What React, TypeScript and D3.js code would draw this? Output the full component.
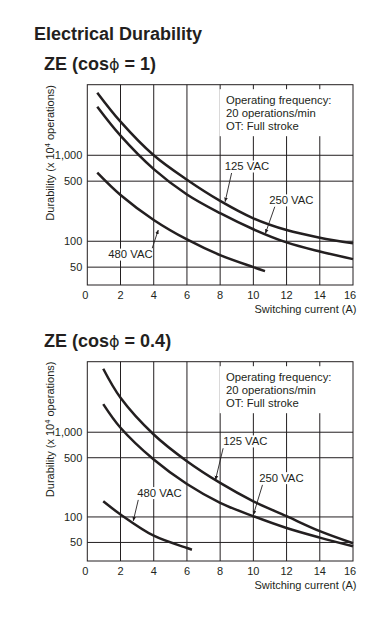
import * as d3 from 'd3';

// ---------------------------------------------------------------------------
// Data
// ---------------------------------------------------------------------------
const CURRENT_TICKS = [0, 2, 4, 6, 8, 10, 12, 14, 16];
const DURABILITY_TICKS = [50, 100, 500, 1000];
const NOTE_LINES = ['Operating frequency:', '20 operations/min', 'OT: Full stroke'];

// ZE (cos phi = 1)
const PF1_CURRENT = [0.6, 2, 4, 6, 8, 10, 12, 14, 16];
const PF1_125VAC = [5350, 2460, 1000, 520, 295, 185, 135, 110, 95];
const PF1_250VAC = [3670, 1690, 690, 350, 212, 138, 97, 76, 62];
const PF1_480VAC_CURRENT = [0.6, 2, 4, 6, 8, 10, 10.7];
const PF1_480VAC = [628, 345, 177, 105, 69, 50, 45];

// ZE (cos phi = 0.4)
const PF04_CURRENT = [0.96, 2, 4, 6, 8, 10, 12, 14, 16];
const PF04_125VAC = [5610, 2550, 940, 455, 252, 153, 102, 68, 49];
const PF04_250VAC = [2150, 1130, 476, 245, 147, 102, 74, 57, 45];
const PF04_480VAC_CURRENT = [0.96, 2, 4, 6, 6.3];
const PF04_480VAC = [153, 107, 60, 43, 41];

// label anchors + leader lines, in (current, durability) units
const PF1_LABELS = [
  { text: '125 VAC', at: [8.28, 674], from: [8.69, 622], to: [8.3, 289] },
  { text: '250 VAC', at: [10.95, 272], from: [11.29, 252], to: [10.73, 124] },
  { text: '480 VAC', at: [1.26, 63.7], from: [3.91, 83], to: [4.27, 135] },
];
const PF04_LABELS = [
  { text: '125 VAC', at: [8.18, 708], from: [8.18, 647], to: [7.72, 275] },
  { text: '250 VAC', at: [10.35, 261], from: [10.55, 239], to: [10.0, 106] },
  { text: '480 VAC', at: [3.01, 174], from: [3.07, 159], to: [2.77, 90] },
];

// ---------------------------------------------------------------------------
// Style
// ---------------------------------------------------------------------------
const INK = '#231f20';
const FONT = '"Liberation Sans", Arial, Helvetica, sans-serif';
const LEFT = 87.3;
const RIGHT = 353;

type Label = { text: string; at: number[]; from: number[]; to: number[] };
type Series = { xs: number[]; ys: number[] };

function Panel({
  id,
  top,
  bottom,
  yDomain,
  series,
  labels,
}: {
  id: string;
  top: number;
  bottom: number;
  yDomain: [number, number];
  series: Series[];
  labels: Label[];
}) {
  const x = d3.scaleLinear().domain([0, 16]).range([LEFT, RIGHT]);
  const y = d3.scaleLog().domain(yDomain).range([bottom, top]);
  const line = d3
    .line<[number, number]>()
    .x((d) => x(d[0]))
    .y((d) => y(d[1]))
    .curve(d3.curveCatmullRom.alpha(0.5));
  const fmt = d3.format(',');
  const noteX = x(8.2);
  const noteTop = top + 4.5;

  return (
    <g>
      <defs>
        <marker id={`arr-${id}`} viewBox="0 0 10 10" refX="9" refY="5" markerWidth="5" markerHeight="5" orient="auto">
          <path d="M0,1 L10,5 L0,9 z" fill={INK} />
        </marker>
      </defs>

      {/* grid */}
      {CURRENT_TICKS.slice(1, -1).map((t) => (
        <line key={`v${t}`} x1={x(t)} x2={x(t)} y1={top} y2={bottom} stroke={INK} strokeWidth={1} />
      ))}
      {DURABILITY_TICKS.map((t) => (
        <line key={`h${t}`} x1={LEFT} x2={RIGHT} y1={y(t)} y2={y(t)} stroke={INK} strokeWidth={1} />
      ))}

      {/* note box hides the grid behind it */}
      <rect x={noteX - 4} y={noteTop} width={RIGHT - noteX - 8} height={47} fill="#fff" />
      {NOTE_LINES.map((s, i) => (
        <text key={s} x={noteX + 2.5} y={top + 19 + i * 13.3} fontSize={11.3} fill={INK} fontFamily={FONT}>
          {s}
        </text>
      ))}

      <rect x={LEFT} y={top} width={RIGHT - LEFT} height={bottom - top} fill="none" stroke={INK} strokeWidth={1} />

      {/* curves */}
      {series.map((s, i) => (
        <path
          key={i}
          d={line(s.xs.map((c, j) => [c, s.ys[j]] as [number, number])) ?? ''}
          fill="none"
          stroke={INK}
          strokeWidth={2.5}
        />
      ))}

      {/* voltage labels */}
      {labels.map((l) => (
        <g key={l.text}>
          <rect x={x(l.at[0]) - 1} y={y(l.at[1]) - 9.5} width={45} height={12} fill="#fff" />
          <text x={x(l.at[0])} y={y(l.at[1])} fontSize={11.3} fill={INK} fontFamily={FONT}>
            {l.text}
          </text>
          <line
            x1={x(l.from[0])}
            y1={y(l.from[1])}
            x2={x(l.to[0])}
            y2={y(l.to[1])}
            stroke={INK}
            strokeWidth={0.9}
            markerEnd={`url(#arr-${id})`}
          />
        </g>
      ))}

      {/* axes text */}
      {DURABILITY_TICKS.map((t) => (
        <text key={`yl${t}`} x={LEFT - 5} y={y(t)} dy="0.35em" textAnchor="end" fontSize={11} fill={INK} fontFamily={FONT}>
          {fmt(t)}
        </text>
      ))}
      {CURRENT_TICKS.map((t) => (
        <text key={`xl${t}`} x={x(t) - (t === 0 ? 2 : t === 16 ? 3 : 0)} y={bottom + 13.5} textAnchor="middle" fontSize={11} fill={INK} fontFamily={FONT}>
          {t}
        </text>
      ))}
      <text x={RIGHT + 3.5} y={bottom + 27.5} textAnchor="end" fontSize={11} fill={INK} fontFamily={FONT}>
        Switching current (A)
      </text>
      <text
        transform={`translate(54,${(top + bottom) / 2 - 32}) rotate(-90)`}
        textAnchor="middle"
        fontSize={11}
        fill={INK}
        fontFamily={FONT}
      >
        Durability (x 10
        <tspan fontSize={7.5} dy={-4}>4</tspan>
        <tspan dy={4}> operations)</tspan>
      </text>
    </g>
  );
}

function Title({ y, text, arg }: { y: number; text: string; arg: string }) {
  return (
    <text x={44} y={y} fontSize={18} fontWeight="bold" fill={INK} fontFamily={FONT}>
      {text} (cos
      <tspan fontWeight="normal" fontFamily='"DejaVu Sans", sans-serif' fontSize={16}>ϕ</tspan>
      {` = ${arg})`}
    </text>
  );
}

export default function App() {
  return (
    <svg
      width={391}
      height={624}
      style={{ position: 'absolute', left: 0, top: 0, background: '#fff' }}
    >
      <text x={34} y={39.5} fontSize={18} fontWeight="bold" fill={INK} fontFamily={FONT}>
        Electrical Durability
      </text>
      <Title y={69.5} text="ZE" arg="1" />
      <Panel
        id="pf1"
        top={84.7}
        bottom={285}
        yDomain={[31, 6620]}
        series={[
          { xs: PF1_CURRENT, ys: PF1_125VAC },
          { xs: PF1_CURRENT, ys: PF1_250VAC },
          { xs: PF1_480VAC_CURRENT, ys: PF1_480VAC },
        ]}
        labels={PF1_LABELS}
      />
      <Title y={347} text="ZE" arg="0.4" />
      <Panel
        id="pf04"
        top={361.7}
        bottom={561}
        yDomain={[30.2, 6800]}
        series={[
          { xs: PF04_CURRENT, ys: PF04_125VAC },
          { xs: PF04_CURRENT, ys: PF04_250VAC },
          { xs: PF04_480VAC_CURRENT, ys: PF04_480VAC },
        ]}
        labels={PF04_LABELS}
      />
    </svg>
  );
}
